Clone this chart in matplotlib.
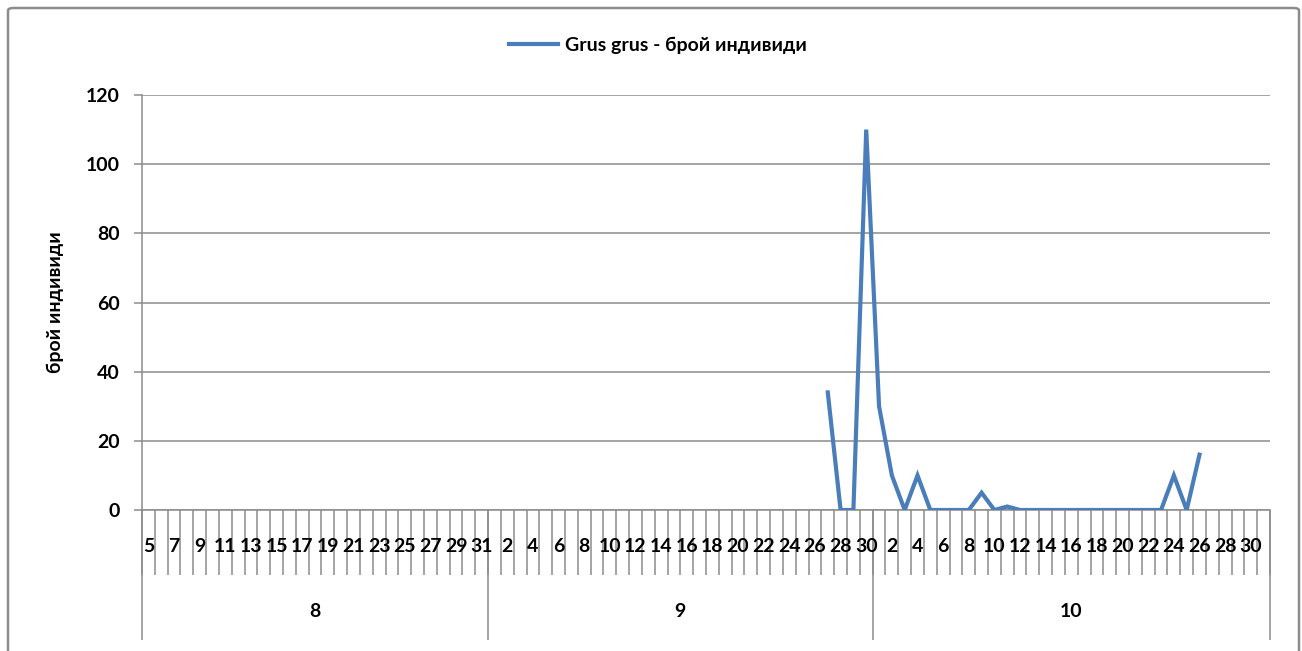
import numpy as np
import matplotlib
matplotlib.use("Agg")
import matplotlib.pyplot as plt
from matplotlib.patches import FancyBboxPatch

plt.rcParams['font.family'] = ['Lato', 'DejaVu Sans']
plt.rcParams['font.weight'] = 'bold'

# ---- data ----
months = ["8", "9", "10"]
month_days = [list(range(5, 32)), list(range(1, 31)), list(range(1, 32))]
obs_month = ["9"] * 4 + ["10"] * 26
obs_day = [27, 28, 29, 30] + list(range(1, 27))
counts = [34, 0, 0, 110,
          30, 10, 0, 10, 0, 0, 0, 0, 5, 0, 1, 0, 0, 0, 0, 0,
          0, 0, 0, 0, 0, 0, 0, 10, 0, 16]
series_name = "Grus grus - брой индивиди"
y_label = "брой индивиди"

# ---- build category axis ----
cats = [(m, d) for m, ds in zip(months, month_days) for d in ds]
n = len(cats)
y = np.full(n, np.nan)
for m, d, c in zip(obs_month, obs_day, counts):
    y[cats.index((m, d))] = c
x = np.arange(n)

W, H = 1302, 651
fig = plt.figure(figsize=(W / 100, H / 100), dpi=100)
ax = fig.add_axes([142 / W, 1 - 510 / H, (1270 - 142) / W, (510 - 95) / H])

blue = '#4A7EBB'
grey = '#8C8C8C'
ax.plot(x, y, color=blue, lw=3.0, solid_joinstyle='miter', label=series_name, zorder=3)

ax.set_xlim(-0.5, n - 0.5)
ax.set_ylim(0, 120)
ax.set_yticks(np.arange(0, 121, 20))
ax.grid(axis='y', color=grey, lw=1.1)
ax.set_axisbelow(True)
for s in ['top', 'right']:
    ax.spines[s].set_visible(False)
ax.spines['left'].set_color(grey)
ax.spines['bottom'].set_color(grey)
ax.spines['left'].set_linewidth(1.1)
ax.spines['bottom'].set_linewidth(1.1)
ax.tick_params(axis='y', length=5.8, width=1.1, color=grey, pad=10, labelsize=14)

# day ticks at boundaries, labels every other category
ax.set_xticks(np.arange(-0.5, n, 1.0))
ax.set_xticklabels([])
ax.tick_params(axis='x', which='major', length=46.8, width=1.1, color=grey, direction='out')
lab_idx = np.arange(0, n, 2)
ax.set_xticks(lab_idx, minor=True)
ax.set_xticklabels([str(cats[i][1]) for i in lab_idx], minor=True)
ax.tick_params(axis='x', which='minor', length=0, pad=20, labelsize=14)

# month level
sec = ax.secondary_xaxis('bottom')
bounds = np.cumsum([0] + [len(d) for d in month_days]) - 0.5
sec.set_xticks(bounds)
sec.set_xticklabels([])
sec.tick_params(axis='x', which='major', length=93.6, width=1.1, color=grey, direction='out')
centers = (bounds[:-1] + bounds[1:]) / 2
sec.set_xticks(centers, minor=True)
sec.set_xticklabels(months, minor=True)
sec.tick_params(axis='x', which='minor', length=0, pad=67, labelsize=14)
sec.spines['bottom'].set_visible(False)

fig.text(55 / W, 1 - 302 / H, y_label, rotation=90, ha='center', va='center', fontsize=14)

fig.legend(loc='center', bbox_to_anchor=(658 / W, 1 - 45 / H), frameon=False,
           fontsize=14, handlelength=2.5, handletextpad=0.35)

fig.patches.append(FancyBboxPatch((8 / W, -10 / H), (1299 - 8) / W, (643 + 10) / H,
                                  boxstyle='round,pad=0,rounding_size=0.004',
                                  transform=fig.transFigure, fill=False,
                                  edgecolor=grey, lw=1.8))

fig.savefig('out.png', dpi=100, facecolor='white')
